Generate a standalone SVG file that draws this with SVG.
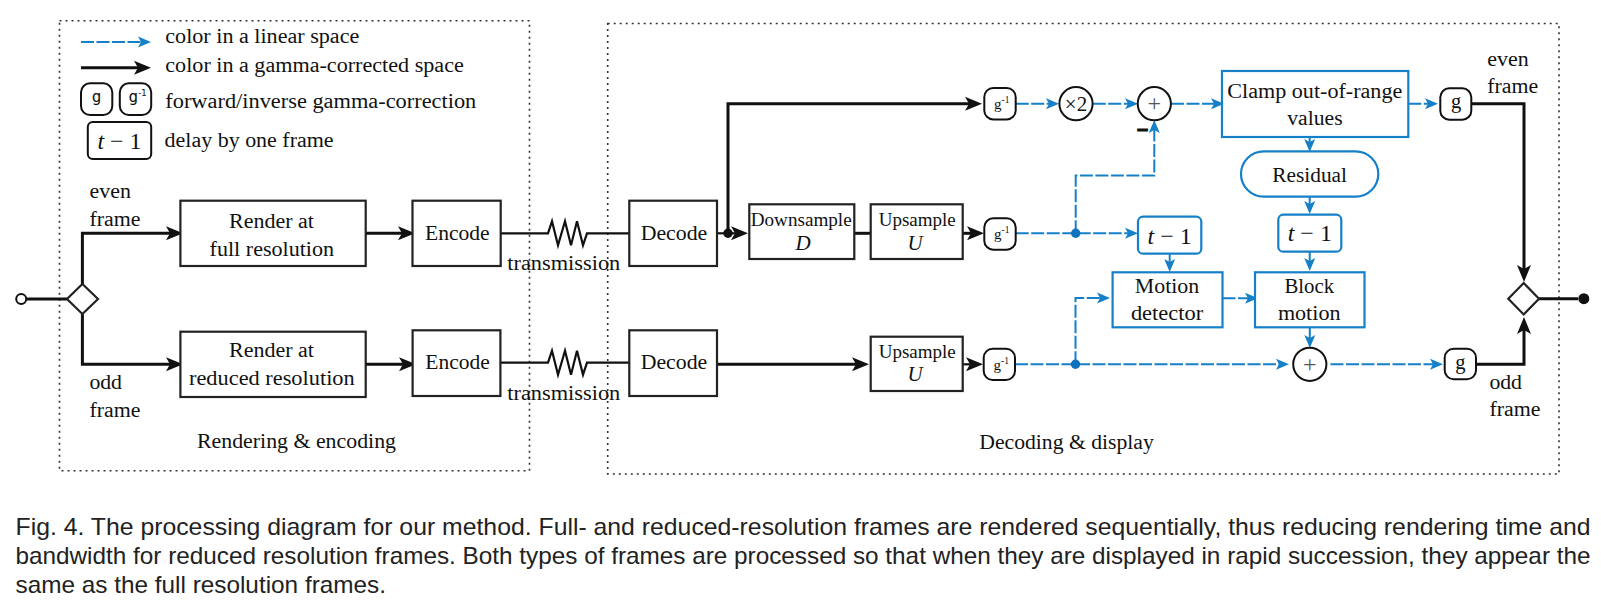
<svg xmlns="http://www.w3.org/2000/svg" width="1601" height="601" viewBox="0 0 1601 601">
<style>
text{font-family:"Liberation Serif",serif;font-size:20.5px;fill:#111}
.m{text-anchor:middle}
.s{font-size:18.5px}
.cap{font-family:"Liberation Sans",sans-serif;font-size:24px;fill:#222}
.b{fill:#fff;stroke:#222;stroke-width:2.2}
.bb{fill:#fff;stroke:#1580c8;stroke-width:2.2}
.bn{fill:#fff;stroke:#111;stroke-width:2}
.k{fill:none;stroke:#111;stroke-width:3}
.kt{fill:none;stroke:#111;stroke-width:2.2}
.c{fill:none;stroke:#1580c8;stroke-width:2;stroke-dasharray:13 2.5}
.cs{fill:none;stroke:#1580c8;stroke-width:2}
.fr{fill:none;stroke:#333;stroke-width:1.6;stroke-dasharray:2 4}
.ka{marker-end:url(#ah)}
.ca{marker-end:url(#bh)}
.math{font-size:24px}
.mu{font-size:21px}
.g1{font-size:15px}
.sup{font-size:9.5px}
.pl{font-size:24px;fill:#555}
</style>
<defs>
<marker id="ah" markerUnits="userSpaceOnUse" markerWidth="20" markerHeight="18" refX="12" refY="7" orient="auto" overflow="visible"><path d="M0,0 L17,7 L0,14 L4,7 Z" fill="#111"/></marker>
<marker id="bh" markerUnits="userSpaceOnUse" markerWidth="16" markerHeight="14" refX="8" refY="5.5" orient="auto" overflow="visible"><path d="M0,0 L13,5.5 L0,11 L3,5.5 Z" fill="#1580c8"/></marker>
</defs>

<g id="frames">
<rect class="fr" x="59.5" y="20.7" width="470" height="450"/>
<rect class="fr" x="607.7" y="23.5" width="951.3" height="450.5"/>
</g>

<g id="connectors">
<path class="c ca" d="M81,42 H146"/>
<path class="k ka" d="M81,67.7 H146"/>
<path class="k" d="M26,299 H67"/>
<path class="k ka" d="M82.4,284 V233.3 H178"/>
<path class="k ka" d="M82.4,314 V364.3 H178"/>
<path class="k ka" d="M365.7,233.3 H410"/>
<path class="k ka" d="M365.7,364.3 H411"/>
<path class="kt" d="M500.7,233.3 H548 L552,221.3 L558,245.3 L565,221.3 L571,245.3 L577,221.3 L583,245.3 L587,233.3 H629.3"/>
<path class="kt" d="M500.4,362.7 H548 L552,350.7 L558,374.7 L565,350.7 L571,374.7 L577,350.7 L583,374.7 L587,362.7 H629.3"/>
<path class="kt" d="M717,233.3 H728"/>
<path class="kt ka" d="M728,233.3 H743"/>
<path class="k ka" d="M728,233.3 V103.7 H977"/>
<path class="k" d="M854.3,233.3 H870.7"/>
<path class="k ka" d="M962.7,233.3 H979"/>
<path class="k ka" d="M717,364.3 H864"/>
<path class="kt ka" d="M962.7,364.3 H978"/>
<path class="c ca" d="M1015.7,103.7 H1054"/>
<path class="c ca" d="M1092.8,103.7 H1133"/>
<path class="c ca" d="M1171,103.7 H1219"/>
<path class="c ca" d="M1408.3,103.7 H1433"/>
<path class="c ca" d="M1015.7,233.3 H1133"/>
<path class="c ca" d="M1075.7,233.3 V175.5 H1154.3 V125"/>
<path class="cs ca" d="M1309.7,137 V147"/>
<path class="cs ca" d="M1309.7,196.7 V209"/>
<path class="cs ca" d="M1309.7,251.7 V266"/>
<path class="cs ca" d="M1169.7,253.7 V267"/>
<path class="c ca" d="M1222.5,298.3 H1253"/>
<path class="cs ca" d="M1309.8,327.3 V343"/>
<path class="c ca" d="M1015,364.3 H1284"/>
<path class="c ca" d="M1330.5,364.3 H1438"/>
<path class="c ca" d="M1075.5,364.3 V298 H1105"/>
<path class="k ka" d="M1471.3,103.7 H1524 V277"/>
<path class="k ka" d="M1476,364.3 H1524 V322"/>
<path class="k" d="M1539,298.7 H1578"/>
</g>

<g id="legend">
<text x="165.3" y="43.3" textLength="194" lengthAdjust="spacingAndGlyphs">color in a linear space</text>
<text x="165.3" y="71.7" textLength="298.5" lengthAdjust="spacingAndGlyphs">color in a gamma-corrected space</text>
<text x="165.3" y="107.7" textLength="311" lengthAdjust="spacingAndGlyphs">forward/inverse gamma-correction</text>
<text x="164.6" y="147" textLength="169" lengthAdjust="spacingAndGlyphs">delay by one frame</text>
<g id="legend-g"><rect class="bn" x="81" y="83.3" width="31.3" height="31.7" rx="9"/><text x="96.6" y="102" class="m" style="font-family:'DejaVu Sans Mono',monospace;font-size:16px">g</text></g>
<g id="legend-g-inv"><rect class="bn" x="119.8" y="83.3" width="31.4" height="31.7" rx="9"/><text x="128.5" y="102" style="font-family:'DejaVu Sans Mono',monospace;font-size:16px">g<tspan dy="-6" style="font-size:8.5px;font-family:'DejaVu Sans',sans-serif">-1</tspan></text></g>
<g id="legend-delay"><rect class="bn" x="87.8" y="122" width="63.4" height="37" rx="5"/><text x="119.5" y="149" class="m math"><tspan font-style="italic">t</tspan> − 1</text></g>
</g>

<g id="start"><circle cx="21.2" cy="299" r="5" fill="#fff" stroke="#111" stroke-width="2"/></g>
<g id="split"><path class="b" d="M82.4,284 L98,299 L82.4,314 L67,299 Z"/></g>
<text x="89.5" y="198" textLength="41.4" lengthAdjust="spacingAndGlyphs">even</text>
<text x="89.5" y="225.5" textLength="51" lengthAdjust="spacingAndGlyphs">frame</text>
<text x="89.4" y="389.3" textLength="32.6" lengthAdjust="spacingAndGlyphs">odd</text>
<text x="89.4" y="416.7" textLength="51" lengthAdjust="spacingAndGlyphs">frame</text>

<g id="render-full"><rect class="b" x="180.4" y="200.7" width="185.3" height="65.3"/><text x="229" y="228" textLength="85" lengthAdjust="spacingAndGlyphs">Render at</text><text x="209.6" y="255.7" textLength="124.5" lengthAdjust="spacingAndGlyphs">full resolution</text></g>
<g id="encode-top"><rect class="b" x="412.5" y="200.7" width="88.2" height="65.3"/><text x="425" y="240" textLength="64.7" lengthAdjust="spacingAndGlyphs">Encode</text></g>
<g id="render-reduced"><rect class="b" x="180.4" y="331.7" width="185.3" height="65.3"/><text x="229" y="357.3" textLength="85" lengthAdjust="spacingAndGlyphs">Render at</text><text x="189" y="384.7" textLength="165.7" lengthAdjust="spacingAndGlyphs">reduced resolution</text></g>
<g id="encode-bottom"><rect class="b" x="412.6" y="330.3" width="87.8" height="65.7"/><text x="425.3" y="369.3" textLength="64.5" lengthAdjust="spacingAndGlyphs">Encode</text></g>
<text x="507.3" y="270" textLength="113" lengthAdjust="spacingAndGlyphs">transmission</text>
<text x="507.3" y="400" textLength="113" lengthAdjust="spacingAndGlyphs">transmission</text>
<text x="197" y="448.3" textLength="199" lengthAdjust="spacingAndGlyphs">Rendering &amp; encoding</text>
<text x="979.3" y="448.5" textLength="174.5" lengthAdjust="spacingAndGlyphs">Decoding &amp; display</text>

<g id="decode-top"><rect class="b" x="629.3" y="200.7" width="87.7" height="65.3"/><text x="640.7" y="240" textLength="66.6" lengthAdjust="spacingAndGlyphs">Decode</text></g>
<g id="decode-bottom"><rect class="b" x="629.3" y="330.3" width="87.7" height="65.7"/><text x="640.7" y="369.3" textLength="66.6" lengthAdjust="spacingAndGlyphs">Decode</text></g>
<g id="junction-black"><circle cx="728" cy="233.3" r="4.7" fill="#111"/></g>
<g id="downsample"><rect class="b" x="749.3" y="204.3" width="105" height="54.7"/><text class="s" x="750.7" y="225.7" textLength="101" lengthAdjust="spacingAndGlyphs">Downsample</text><text class="m mu" x="803" y="250" font-style="italic">D</text></g>
<g id="upsample-top"><rect class="b" x="870.7" y="204.3" width="92" height="54.7"/><text class="s" x="878.7" y="225.7" textLength="77" lengthAdjust="spacingAndGlyphs">Upsample</text><text class="m mu" x="915" y="250" font-style="italic">U</text></g>
<g id="upsample-bottom"><rect class="b" x="870.7" y="336.7" width="92" height="54.3"/><text class="s" x="878.7" y="358.3" textLength="77" lengthAdjust="spacingAndGlyphs">Upsample</text><text class="m mu" x="915" y="381" font-style="italic">U</text></g>

<g id="ginv-top"><rect class="bn" x="984.3" y="88" width="31.4" height="31.4" rx="9"/><text class="g1" x="994" y="109">g<tspan class="sup" dy="-6">-1</tspan></text></g>
<g id="ginv-mid"><rect class="bn" x="984.3" y="218.3" width="31.4" height="31.4" rx="9"/><text class="g1" x="994" y="238.5">g<tspan class="sup" dy="-6">-1</tspan></text></g>
<g id="ginv-bottom"><rect class="bn" x="983.7" y="348.7" width="31.3" height="31.3" rx="9"/><text class="g1" x="993.5" y="369.5">g<tspan class="sup" dy="-6">-1</tspan></text></g>

<g id="times2"><circle class="bn" cx="1076" cy="103.7" r="16.6"/><text class="m" x="1076" y="110.5" style="font-size:21px">×2</text></g>
<g id="plus-top"><circle class="bn" cx="1154.3" cy="103.7" r="16.6"/><text class="m pl" x="1154.3" y="111">+</text></g>
<text x="1137" y="135" stroke="#111" stroke-width="1" style="font-family:'Liberation Sans',sans-serif;font-weight:bold;font-size:20px">–</text>
<g id="clamp"><rect class="bb" x="1222" y="71" width="186.3" height="66"/><text x="1227.3" y="98.3" textLength="175" lengthAdjust="spacingAndGlyphs">Clamp out-of-range</text><text x="1287.3" y="125.3" textLength="55.3" lengthAdjust="spacingAndGlyphs">values</text></g>
<g id="g-top"><rect class="bn" x="1440.3" y="88.3" width="31" height="31.4" rx="9"/><text class="m" x="1456" y="108">g</text></g>
<g id="residual"><rect class="bb" x="1241" y="151.3" width="137.3" height="45.4" rx="22.7"/><text x="1272.3" y="181.7" textLength="74.7" lengthAdjust="spacingAndGlyphs">Residual</text></g>
<g id="delay-left"><rect class="bb" x="1138" y="216.7" width="63.3" height="37" rx="5"/><text class="m math" x="1169.7" y="243.5"><tspan font-style="italic">t</tspan> − 1</text></g>
<g id="delay-right"><rect class="bb" x="1278.3" y="214.7" width="63" height="37" rx="5"/><text class="m math" x="1309.8" y="241"><tspan font-style="italic">t</tspan> − 1</text></g>
<g id="junction-blue-1"><circle cx="1075.7" cy="233.3" r="4.7" fill="#0f72bd"/></g>
<g id="junction-blue-2"><circle cx="1075.5" cy="364.3" r="4.7" fill="#0f72bd"/></g>
<g id="motion"><rect class="bb" x="1112.6" y="272.3" width="109.9" height="55"/><text x="1134.8" y="293.3" textLength="64.4" lengthAdjust="spacingAndGlyphs">Motion</text><text x="1130.9" y="320.3" textLength="72.3" lengthAdjust="spacingAndGlyphs">detector</text></g>
<g id="block"><rect class="bb" x="1255" y="272.3" width="109.5" height="55"/><text x="1284.4" y="293.3" textLength="49.7" lengthAdjust="spacingAndGlyphs">Block</text><text x="1277.9" y="320.3" textLength="62.6" lengthAdjust="spacingAndGlyphs">motion</text></g>
<g id="plus-bottom"><circle class="bn" cx="1309.8" cy="364.3" r="16.6"/><text class="m pl" x="1309.8" y="371.5">+</text></g>
<g id="g-bottom"><rect class="bn" x="1444.7" y="348.7" width="31.3" height="30.6" rx="9"/><text class="m" x="1460.3" y="368.5">g</text></g>
<g id="merge"><path class="b" d="M1523.7,283 L1539,298.7 L1523.7,314.4 L1508.3,298.7 Z"/></g>
<g id="end"><circle cx="1583.8" cy="298.7" r="5.5" fill="#111"/></g>
<text x="1487.3" y="66" textLength="41.4" lengthAdjust="spacingAndGlyphs">even</text>
<text x="1487.3" y="93.3" textLength="51" lengthAdjust="spacingAndGlyphs">frame</text>
<text x="1489.4" y="389" textLength="32.6" lengthAdjust="spacingAndGlyphs">odd</text>
<text x="1489.4" y="416" textLength="51" lengthAdjust="spacingAndGlyphs">frame</text>

<g id="caption">
<text class="cap" x="15.5" y="535" textLength="1575" lengthAdjust="spacingAndGlyphs">Fig. 4. The processing diagram for our method. Full- and reduced-resolution frames are rendered sequentially, thus reducing rendering time and</text>
<text class="cap" x="15.5" y="564" textLength="1575" lengthAdjust="spacingAndGlyphs">bandwidth for reduced resolution frames. Both types of frames are processed so that when they are displayed in rapid succession, they appear the</text>
<text class="cap" x="15.5" y="593" textLength="370.5" lengthAdjust="spacingAndGlyphs">same as the full resolution frames.</text>
</g>
</svg>
